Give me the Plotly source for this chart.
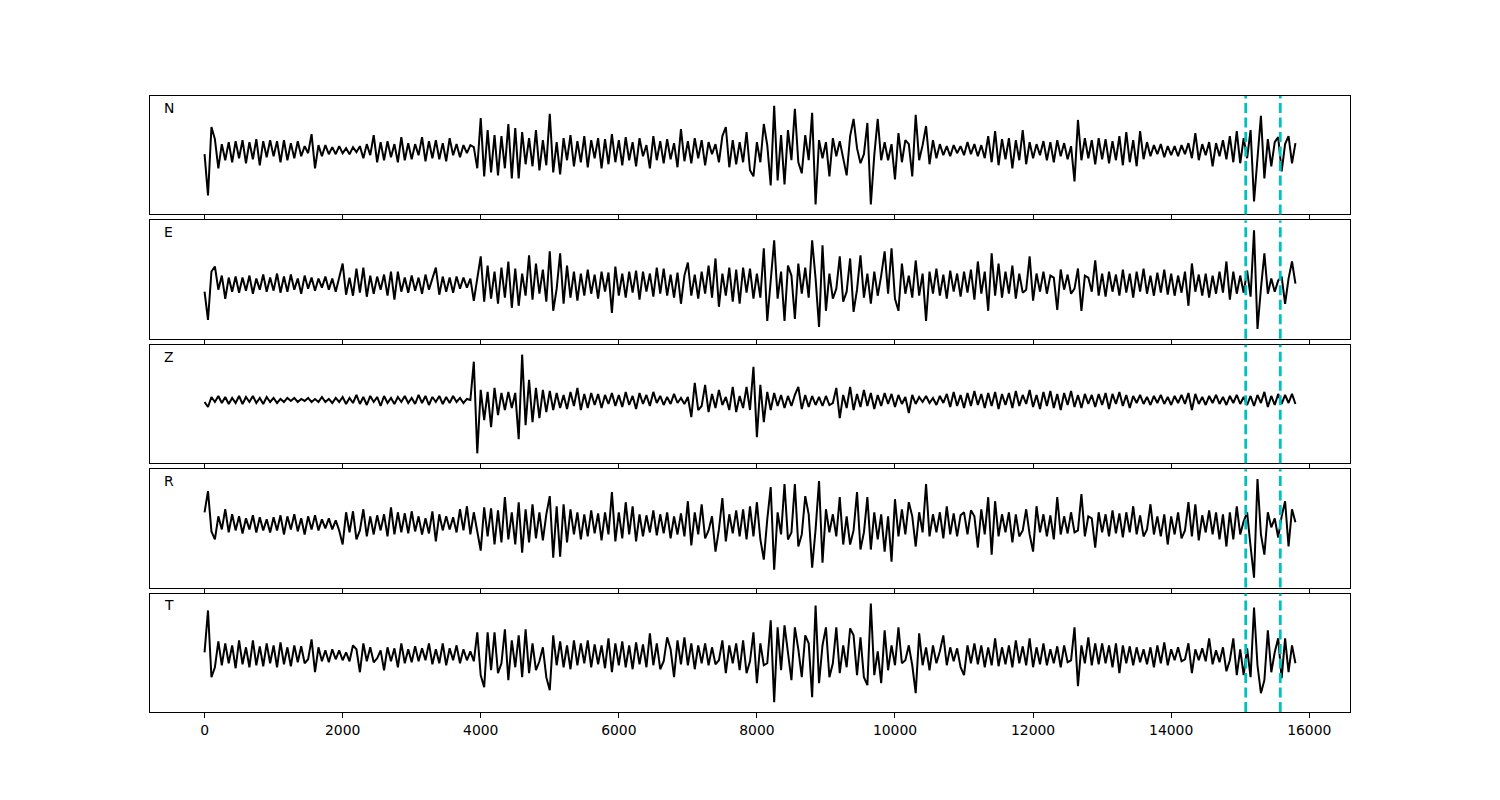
import plotly.graph_objects as go
from plotly.subplots import make_subplots

STEP = 50
labels = ["N", "E", "Z", "R", "T"]
picks = [15080, 15580]
tick_vals = [0, 2000, 4000, 6000, 8000, 10000, 12000, 14000, 16000]
tick_text = ["0", "2000", "4000", "6000", "8000", "10000", "12000", "14000", "16000"]

N_vals = [
    -4, -45, 23, 11, -18, 6, -10, 8, -12, 9, -8, 10, -13, 8, -9, 11, -15, 9, -7, 10,
    -6, 9, -12, 10, -10, 7, -8, 9, -6, 4, -3, 16, -18, 5, -6, 5, -4, 3, -4, 4,
    -3, 2, -4, 3, -2, 4, -8, 6, -5, 15, -12, 8, -10, 9, -7, 6, -12, 13, -10, 7,
    -9, 6, -5, 13, -11, 9, -8, 10, -9, 7, -11, 12, -5, 6, -7, 5, -3, 5, 3, -18,
    32, -26, 20, -22, 15, -25, 14, -18, 26, -28, 22, -28, 18, -14, 12, -16, 20, -20, 10, -15,
    36, -22, 8, -24, 12, -10, 15, -16, 9, -12, 14, -17, 10, -8, 12, -18, 11, -14, 16, -12,
    10, -15, 13, -10, 8, -16, 12, -6, 5, -18, 14, -10, 9, -13, 11, -9, 7, -17, 21, -11,
    9, -13, 12, -8, 10, -15, 8, -4, 6, -12, 14, 23, -17, 10, -14, 8, -12, 18, -20, -26,
    8, -12, 26, 5, -35, 44, -30, 15, -34, 20, -10, 41, -12, -23, 15, -10, 37, -54, 10, -8,
    8, -26, 12, -6, 9, -10, -25, 14, 31, 2, -13, -4, 27, -54, -5, 31, -10, 8, -10, 6,
    -29, 17, -12, 10, 6, -26, 35, -10, 5, 24, -14, 10, -8, 6, -5, 4, -6, 5, -3, 4,
    -5, 8, -4, 6, -6, 5, -8, 14, -12, 19, -15, 11, -9, 12, -18, 10, -10, 20, -14, 8,
    -8, 6, -5, 9, -10, 8, -12, 10, -6, 7, -9, 4, -31, 30, -10, 12, -8, 10, -14, 12,
    -9, 11, -13, 9, -10, 14, -15, 18, -12, 10, -16, 19, -9, 8, -6, 5, -4, 6, -7, 4,
    -5, 4, -6, 5, -4, 7, -8, 17, -10, 6, -5, 8, -16, 7, -6, 10, -9, 14, -12, 19,
    -13, 12, -8, 20, -51, -8, 34, -28, 11, -16, 8, 13, -21, 6, 14, -13, 7,
]

E_vals = [
    -8, -36, 12, 17, -6, 8, -15, 6, -8, 7, -9, 6, -7, 8, -10, 5, -6, 9, -8, 6,
    -7, 10, -9, 7, -8, 9, -6, 5, -10, 8, -5, 6, -7, 5, -4, 7, -6, 5, -8, 6,
    20, -11, 6, -12, 15, -9, 16, -13, 8, -10, 7, -6, 9, -12, 12, -16, 12, -8, 6, -9,
    8, -7, 6, -10, 9, -6, 4, 16, -11, 7, -8, 6, -9, 7, -5, 6, -4, 5, -17, 3,
    27, -18, 18, -15, 12, -20, 16, -14, 22, -24, 15, -22, 10, -12, 28, -16, 20, -10, 14, -18,
    32, -27, -5, 30, -20, 18, -14, 12, -17, 10, -12, 14, -10, 9, -15, 12, -8, 11, -29, 17,
    -12, 10, -14, 12, -9, 13, -16, 12, -8, 10, -13, 16, -10, 15, -12, 9, -14, 11, -20, 8,
    21, -12, 9, -15, 12, -10, 18, -14, 25, -23, 10, -12, 16, -18, 14, -20, 16, -9, 15, -15,
    10, -14, 35, -37, 5, 43, -15, 12, -37, 18, 8, -35, 20, -10, 16, -14, 43, 5, -43, 38,
    -27, 10, -15, -5, 27, -18, -8, 25, -28, -6, 28, -14, 10, -20, 12, -12, 8, 32, -10, 35,
    -15, -27, 20, -10, 8, -14, 23, -12, 10, -37, 12, -10, 15, -12, 9, -15, 13, -8, 10, -13,
    12, -9, 14, -16, 22, -10, 12, -27, 30, -12, 20, -14, 12, -10, 18, -15, 10, -9, -6, 27,
    -17, 10, -8, 12, -10, 8, 6, -26, 14, -6, 9, -10, -5, 15, -27, 8, 6, -8, 23, -12,
    10, -13, 12, -8, 9, -12, 14, -9, 10, -14, 12, -8, 15, -10, 8, -12, 11, -9, 14, -11,
    10, -12, 8, -9, 12, -22, 20, -8, 9, -12, 10, -14, 8, -10, 12, -9, 22, -16, 12, -10,
    8, -9, 13, -13, 53, -45, -5, 30, -10, 5, -8, 3, 7, -20, 5, 22, 0,
]

Z_vals = [
    -2, -7, 3, -2, 4, -3, 3, -4, 2, -3, 4, -4, 3, -2, 4, -3, 2, -4, 3, -2,
    2, -3, 1, -2, 2, -1, 2, -2, 1, -1, 2, -2, 1, -2, 3, -2, 1, -3, 2, -2,
    3, -4, 2, -3, 5, -4, 3, -5, 4, -2, 3, -6, 4, -3, 2, -4, 3, -2, 4, -3,
    2, -4, 5, -3, 4, -5, 3, -2, 4, -4, 3, -3, 4, -2, 2, -3, 1, 0, 38, -53,
    10, -20, 8, -27, 12, -15, 7, -10, 8, -8, 7, -39, 45, -25, 20, -22, 12, -18, 10, -12,
    9, -10, 7, -8, 5, -9, 8, -6, 12, -10, 6, -8, 7, -5, 6, -8, 5, -4, 7, -6,
    5, -7, 8, -5, 4, -9, 7, -4, 5, -6, 8, -3, 4, -5, 3, -4, 6, -3, 2, -4,
    3, -17, 17, -10, -6, 15, -12, 6, -8, 10, -5, 3, -10, 13, -12, 4, -8, 13, -10, 33,
    -37, 15, -22, 8, -10, 7, -6, 5, -8, 4, -6, 5, 13, -9, 5, -7, 4, -5, 3, -6,
    4, -5, -3, 12, -18, 5, -8, 13, -10, 6, -7, 10, -6, 7, -9, 5, -6, 7, -4, 6,
    -7, 5, -4, 3, -13, 5, -4, 3, -2, 4, -3, 2, -5, 4, -3, 6, -7, 8, -6, 5,
    -8, 7, -6, 9, -5, 6, -8, 7, -6, 8, -9, 6, -5, 7, -8, 9, -6, 5, -4, 10,
    -7, 5, -9, 8, -6, 9, -8, 6, -10, 7, -5, 9, -7, 5, -8, 6, -4, 5, -7, 6,
    -5, 7, -9, 6, -4, 8, -6, 5, -8, 4, -3, 5, -4, 3, -5, 4, -3, 5, -4, 3,
    -5, 4, -3, 5, -4, 7, -10, 6, -4, 3, -5, 4, -3, 5, -4, 3, -5, 4, -3, 5,
    -4, 3, -5, 4, -6, 5, -3, 8, -7, 4, -5, 6, -4, 5, -3, 6, -4,
]

R_vals = [
    12, 33, -7, -15, 8, -5, 15, -8, 10, -6, 8, -9, 6, -5, 9, -8, 7, -6, 5, -8,
    7, -6, 9, -10, 8, -5, 10, -7, 6, -10, 8, -5, 9, -6, 5, -4, 6, -5, 4, -6,
    -20, 12, -8, 13, -15, -6, 15, -12, 8, -10, 9, -6, 10, -12, 17, -10, 12, -8, 11, -9,
    13, -7, 8, -10, 6, -9, 13, -17, 10, -6, 8, -5, 7, -8, 15, -6, 18, -10, 12, -8,
    -26, 17, -12, 16, -20, 14, -18, 27, -15, 12, -20, 22, -28, 15, -18, 20, -14, 12, -16, 10,
    28, -33, 18, -32, 20, -18, 15, -10, 12, -15, 10, -12, 14, -9, 11, -16, 12, -10, 32, -17,
    12, -14, 22, -10, 18, -17, 10, -12, 9, -8, 14, -11, 10, -9, 12, -14, 8, -10, 11, -12,
    23, -21, 12, -10, 20, -14, -6, 8, -27, -5, 26, -17, 10, -9, 14, -12, 15, -15, 18, -12,
    22, -15, -35, 5, 37, -45, 12, -10, 40, -15, -8, 40, -22, -10, 28, 10, -43, -5, 43, -38,
    15, -8, 10, -12, 27, -20, 8, -20, -6, 32, -25, -8, 27, -25, 12, -15, 10, -27, 8, -37,
    25, -12, 15, -10, 22, 8, -22, 12, -8, 40, -12, 10, -8, 12, -14, 18, -10, 11, -12, 9,
    12, -10, 14, 8, -23, 15, -10, 27, -30, 23, -12, 10, -8, 12, -18, 10, -12, -6, 15, -10,
    -27, 18, -8, 10, -12, 9, -15, 27, -10, 8, -9, 12, -8, -6, 30, -12, 8, 6, -23, 12,
    -8, 10, -12, 14, -9, 11, -13, 12, -8, 18, -10, 9, -12, -5, 20, -10, 8, -12, 10, -20,
    8, -10, 12, -14, -6, 22, -12, 20, -16, 9, -8, 14, -10, 12, -15, 10, -22, 12, -15, 18,
    -10, 3, 12, -22, -53, 45, -10, -30, 12, -3, 6, -13, 8, 23, -22, 15, 2,
]

T_vals = [
    3, 45, -22, -12, 14, -10, 12, -8, 10, -13, 15, -9, 8, -12, 15, -10, 9, -11, 12, -8,
    10, -12, 13, -9, 8, -11, 10, -7, 9, -8, -4, 16, -17, 8, -6, 5, -7, 6, -4, 5,
    -5, 3, -6, 10, 6, -17, 12, -6, 8, -7, -3, 5, -15, 8, -6, 7, -12, 12, -8, 6,
    -7, 9, -6, 7, -5, 12, -9, 6, -8, 12, -10, 7, -5, 10, -8, 6, -5, 4, -6, 23,
    -20, -32, 23, -15, 23, -18, -8, 26, -25, 15, -12, 20, -22, 26, -18, 12, -15, -6, 8, -22,
    -35, 20, -10, 14, -12, 10, -14, 15, -10, 12, -8, 15, -12, 11, -9, 10, -13, 17, -17, 12,
    -10, 14, -12, 10, -14, 13, -9, 11, -12, 22, -10, 12, -14, -6, 18, 6, -22, 15, -9, 18,
    -10, 12, -14, 10, -8, 12, -10, 8, -9, -5, 15, -18, 10, -8, 12, -15, 15, -18, -6, 23,
    -28, 12, -10, -8, 35, -47, 28, -15, 30, 5, -25, 28, 6, -22, 20, 12, -42, 50, -28, 10,
    28, -22, -8, 28, -18, 10, -12, 27, 20, -20, 18, -22, -30, 52, -20, 4, -28, 25, -15, 10,
    -10, 28, -8, -5, 10, -10, -38, 22, -10, 8, -15, 10, -8, 4, 20, -10, 8, -6, 7, -12,
    -20, 10, -8, 12, -9, 10, -12, 8, -10, 17, -11, 8, -9, 10, -12, 15, -8, 9, -10, 17,
    -12, 8, -9, 12, -10, 6, -8, 9, -12, 10, -7, -5, 28, -31, 10, -8, 18, -10, 12, -9,
    12, -8, 10, -12, 12, -18, 10, -8, 9, -10, 8, -7, 6, -9, 8, -12, 10, -8, 13, -10,
    6, -5, 8, -6, -4, 12, -18, 6, -5, 7, -6, 17, -9, 5, -7, 8, -16, -5, 17, -20,
    6, -20, 7, -22, 48, -10, -38, -25, 25, -17, 3, 17, -23, 17, -17, 10, -8,
]

traces = [N_vals, E_vals, Z_vals, R_vals, T_vals]

fig = make_subplots(rows=5, cols=1, shared_xaxes=True, vertical_spacing=6 / 616)

for i, (lab, vals) in enumerate(zip(labels, traces)):
    row = i + 1
    xs = [k * STEP for k in range(len(vals))]
    fig.add_trace(
        go.Scatter(x=xs, y=vals, mode="lines",
                   line=dict(color="black", width=2),
                   showlegend=False, hoverinfo="skip"),
        row=row, col=1,
    )
    lo, hi = min(vals), max(vals)
    span = hi - lo
    fig.update_yaxes(range=[lo - 0.1 * span, hi + 0.1 * span], row=row, col=1)
    axn = "" if row == 1 else str(row)
    for p in picks:
        fig.add_shape(type="line", xref="x" + axn, yref="y" + axn + " domain",
                      x0=p, x1=p, y0=0, y1=1,
                      line=dict(color="#00BFBF", width=2.8, dash="10px,4.5px"))
    fig.add_annotation(xref="x" + axn + " domain", yref="y" + axn + " domain",
                       x=0.01, y=0.985, xanchor="left", yanchor="top",
                       text=lab, showarrow=False,
                       font=dict(family="DejaVu Sans", size=13.9, color="black"))

fig.update_xaxes(range=[-790, 16590], tickvals=tick_vals, ticktext=tick_text,
                 ticks="outside", ticklen=5, tickwidth=1, tickcolor="black",
                 showline=True, mirror=True, linecolor="black", linewidth=1,
                 showgrid=False, zeroline=False)
fig.update_yaxes(showticklabels=False, ticks="", showline=True, mirror=True,
                 linecolor="black", linewidth=1, showgrid=False, zeroline=False)

fig.update_layout(
    width=1500, height=800,
    margin=dict(l=142, r=158, t=88, b=96),
    paper_bgcolor="white", plot_bgcolor="white",
    font=dict(family="DejaVu Sans", size=13.9, color="black"),
    showlegend=False,
)

fig.write_html("out.html")
